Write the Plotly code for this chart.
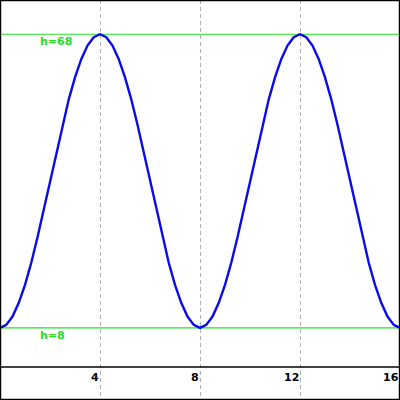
import plotly.graph_objects as go

x_vals = [0, 0.25, 0.5, 0.75, 1, 1.25, 1.5, 1.75, 2, 2.25, 2.5, 2.75, 3, 3.25, 3.5, 3.75,
          4, 4.25, 4.5, 4.75, 5, 5.25, 5.5, 5.75, 6, 6.25, 6.5, 6.75, 7, 7.25, 7.5, 7.75,
          8, 8.25, 8.5, 8.75, 9, 9.25, 9.5, 9.75, 10, 10.25, 10.5, 10.75, 11, 11.25, 11.5, 11.75,
          12, 12.25, 12.5, 12.75, 13, 13.25, 13.5, 13.75, 14, 14.25, 14.5, 14.75, 15, 15.25, 15.5, 15.75,
          16]
h_vals = [8.0, 8.6, 10.3, 13.1, 16.8, 21.3, 26.5, 32.1, 38.0, 43.9, 49.5, 54.7, 59.2, 62.9, 65.7, 67.4,
          68.0, 67.4, 65.7, 62.9, 59.2, 54.7, 49.5, 43.9, 38.0, 32.1, 26.5, 21.3, 16.8, 13.1, 10.3, 8.6,
          8.0, 8.6, 10.3, 13.1, 16.8, 21.3, 26.5, 32.1, 38.0, 43.9, 49.5, 54.7, 59.2, 62.9, 65.7, 67.4,
          68.0, 67.4, 65.7, 62.9, 59.2, 54.7, 49.5, 43.9, 38.0, 32.1, 26.5, 21.3, 16.8, 13.1, 10.3, 8.6,
          8.0]

tick_vals = [4, 8, 12, 16]
tick_labels = ["4", "8", "12", "16"]
ref_levels = [68, 8]
ref_labels = ["h=68", "h=8"]

GREEN = "#22e022"
FONT = "DejaVu Sans"

fig = go.Figure()
fig.add_trace(go.Scatter(x=x_vals, y=h_vals, mode="lines",
                         line=dict(color="#0a0aee", width=2.4), hoverinfo="skip"))

shapes = []
for lv in ref_levels:
    shapes.append(dict(type="line", xref="paper", x0=0, x1=1, yref="y", y0=lv, y1=lv,
                       line=dict(color=GREEN, width=1.2), layer="below"))
# x axis line
shapes.append(dict(type="line", xref="paper", x0=0, x1=1, yref="y", y0=0, y1=0,
                   line=dict(color="black", width=1.6)))
# border
shapes.append(dict(type="rect", xref="paper", yref="paper", x0=0, x1=1, y0=0, y1=1,
                   line=dict(color="black", width=2.4)))

annotations = []
for tv, tl in zip(tick_vals, tick_labels):
    annotations.append(dict(x=tv, y=0, xref="x", yref="y", text="<b>" + tl + "</b>",
                            showarrow=False, xanchor="right", yanchor="top",
                            xshift=1, yshift=-2,
                            font=dict(family=FONT, size=11, color="black")))
for lv, lt in zip(ref_levels, ref_labels):
    annotations.append(dict(x=0.094, y=lv, xref="paper", yref="y", text="<b>" + lt + "</b>",
                            showarrow=False, xanchor="left", yanchor="top", yshift=1,
                            font=dict(family=FONT, size=11, color=GREEN)))

fig.update_layout(
    width=400, height=400,
    margin=dict(l=0, r=0, t=0, b=0),
    paper_bgcolor="white", plot_bgcolor="white",
    showlegend=False,
    shapes=shapes, annotations=annotations,
    xaxis=dict(range=[0, 16], tickvals=tick_vals, showticklabels=False, ticks="",
               showgrid=True, gridcolor="#b0b0b0", gridwidth=1, griddash="4px,3px",
               zeroline=False, showline=False, fixedrange=True),
    yaxis=dict(range=[-6.75, 75], showticklabels=False, ticks="", showgrid=False,
               zeroline=False, showline=False, fixedrange=True),
)

fig.write_html("out.html",
               config={"displayModeBar": False, "staticPlot": True},
               post_script="document.body.style.margin='0';document.body.style.overflow='hidden';")
